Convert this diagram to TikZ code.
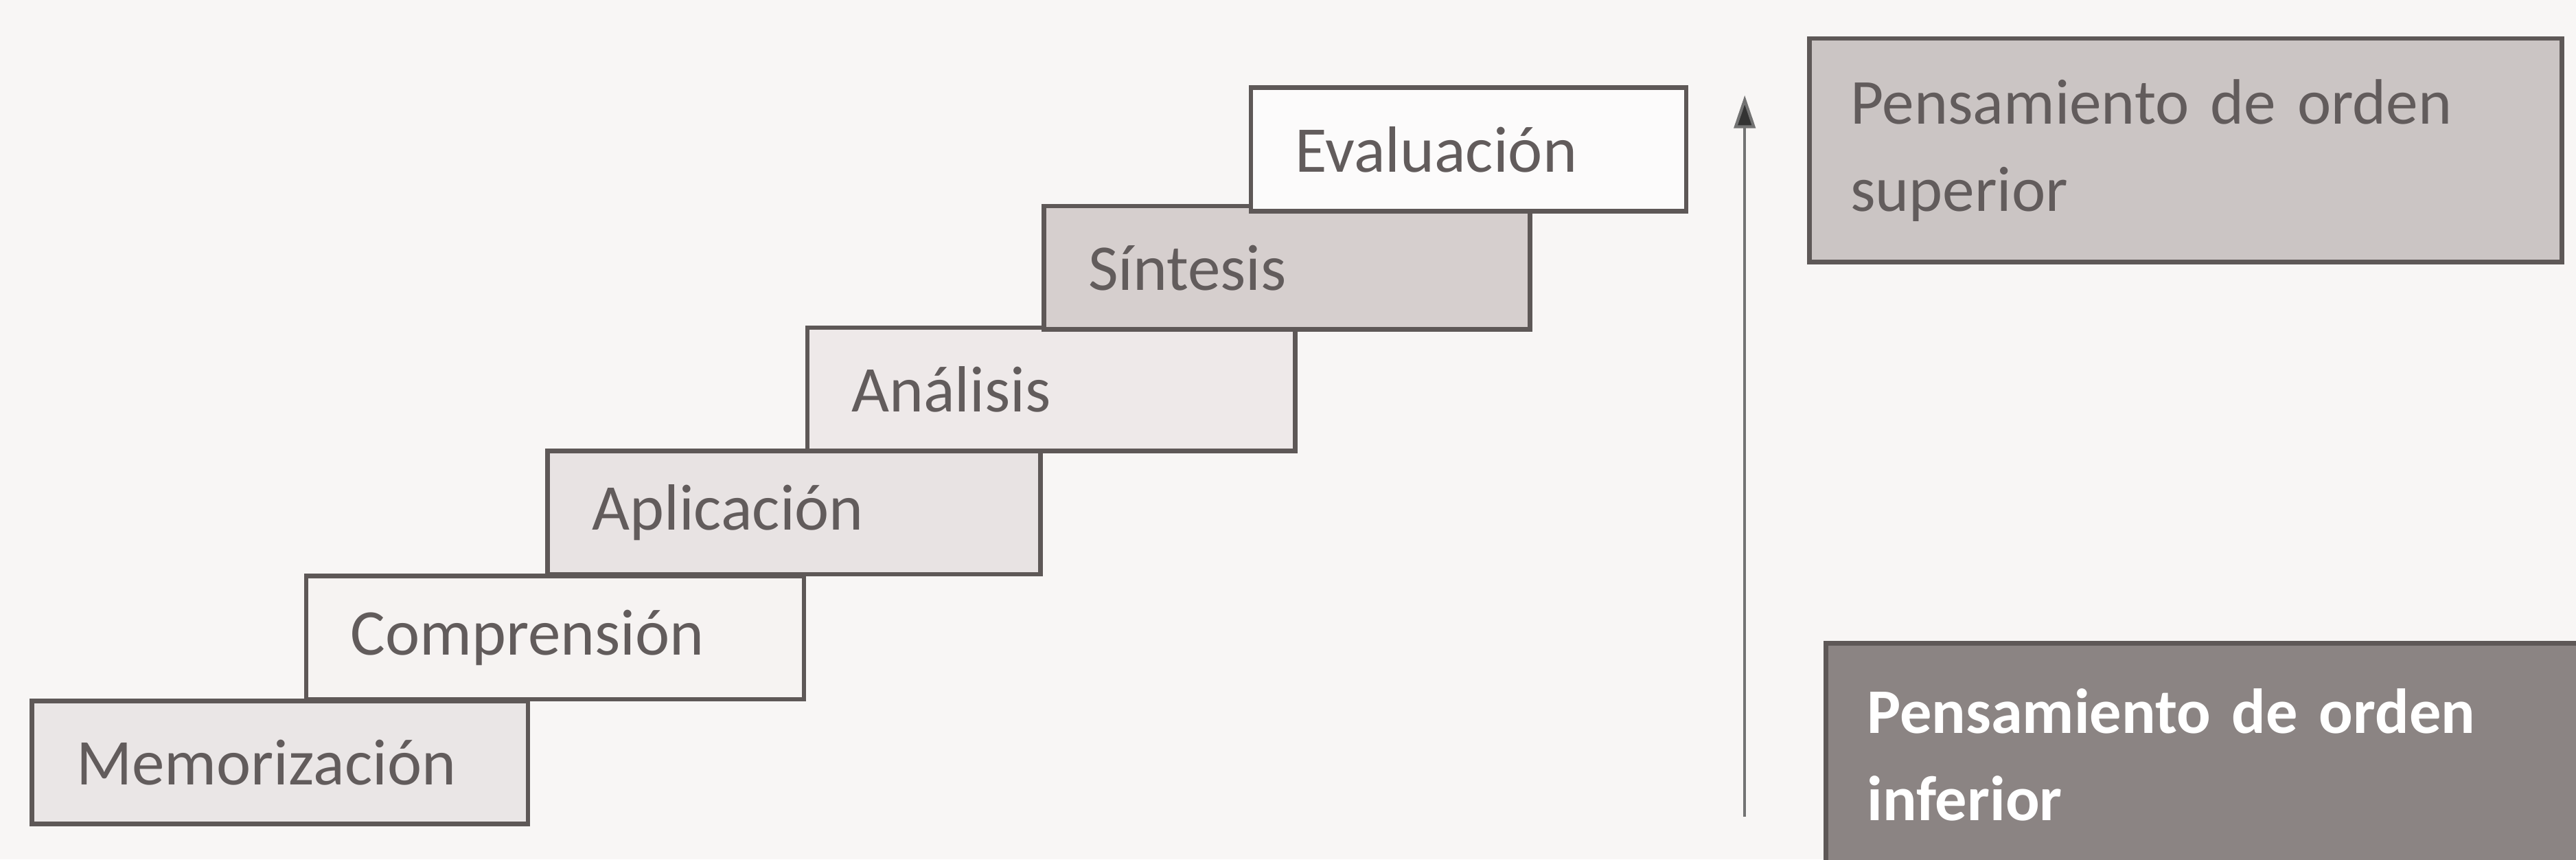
\documentclass[tikz,border=0pt]{standalone}
\usepackage{fontspec}
\setmainfont{Carlito}
\usetikzlibrary{arrows.meta}
\definecolor{bgc}{HTML}{F8F6F5}
\definecolor{edgec}{HTML}{5E5857}
\definecolor{txtc}{HTML}{625C5C}
\definecolor{memc}{HTML}{EAE6E6}
\definecolor{compc}{HTML}{F6F3F2}
\definecolor{aplc}{HTML}{E8E3E3}
\definecolor{anac}{HTML}{EEE9E9}
\definecolor{sinc}{HTML}{D6CFCE}
\definecolor{evalc}{HTML}{FCFBFB}
\definecolor{highc}{HTML}{CBC5C4}
\definecolor{lowc}{HTML}{8B8483}
\tikzset{
  stepbox/.style={draw=edgec, line width=0.8pt, anchor=north west, minimum height=7.5mm,
    inner xsep=2.7mm, inner ysep=0pt, align=left, text=txtc,
    font=\fontsize{11.3}{13}\selectfont},
  levelbox/.style={draw=edgec, line width=0.8pt, anchor=north west, minimum height=13.6mm,
    inner xsep=2.5mm, inner ysep=0pt, align=left,
    font=\fontsize{11.1}{15.1}\selectfont}
}
\begin{document}
\begin{tikzpicture}[x=0.1mm,y=-0.1mm]
\useasboundingbox (0,0) rectangle (1568,523);
\fill[bgc] (0,0) rectangle (1568,523);
\node[stepbox, fill=memc, text width=24.8mm] (mem) at (18,425) {Memorización};
\node[stepbox, fill=compc, text width=24.9mm] (comp) at (185,349) {Comprensión};
\node[stepbox, fill=aplc, text width=24.6mm] (apl) at (332,273) {Aplicación};
\node[stepbox, fill=anac, text width=24.3mm] (ana) at (490,198) {Análisis};
\node[stepbox, fill=sinc, text width=24.2mm] (sin) at (634,124) {Síntesis};
\node[stepbox, fill=evalc, text width=21.1mm] (eval) at (760,52) {Evaluación};
\coordinate (abot) at (1062,497);
\coordinate (atop) at (1062,58);
\draw[line width=0.5pt, draw=black!55, -{Triangle[length=2mm,width=1.3mm,fill=black!80]}] (abot) -- (atop);
\node[levelbox, fill=highc, text=txtc, text width=40.8mm, minimum height=13.6mm] (high) at (1100,22) {Pensamiento de orden\\superior};
\node[levelbox, fill=lowc, text=white, text width=41mm, minimum height=13.6mm, font=\bfseries\fontsize{11}{15.1}\selectfont] (low) at (1110,390) {Pensamiento de orden\\inferior};
\end{tikzpicture}
\end{document}
